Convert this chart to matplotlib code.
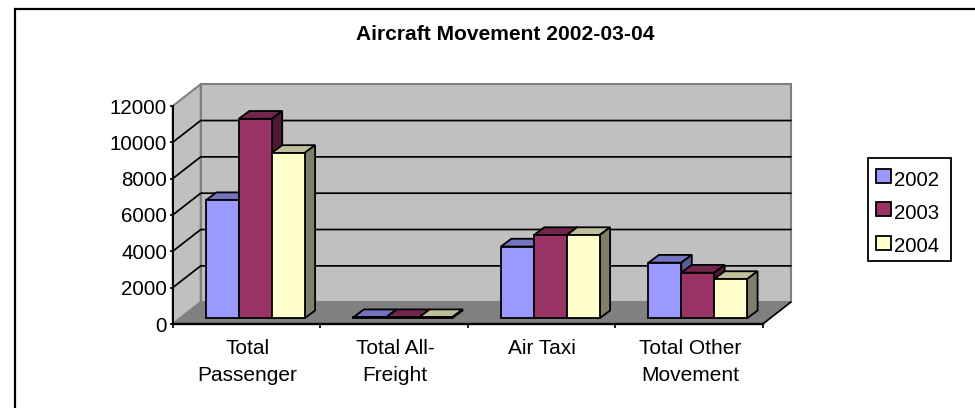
import matplotlib
matplotlib.use("Agg")
import matplotlib.pyplot as plt
from matplotlib.lines import Line2D
from matplotlib.patches import Polygon, Rectangle
from matplotlib.ticker import NullFormatter

plt.rcParams['font.family'] = ['Liberation Sans', 'DejaVu Sans']

categories = ["Total\nPassenger", "Total All-\nFreight", "Air Taxi", "Total Other\nMovement"]
years = ["2002", "2003", "2004"]
v2002 = [6500, 60, 3950, 3060]
v2003 = [10980, 60, 4580, 2510]
v2004 = [9100, 60, 4580, 2160]
series = [v2002, v2003, v2004]
front_colors = ["#9999FF", "#993366", "#FFFFCC"]
top_colors = ["#7373BF", "#73264D", "#BFBF99"]
side_colors = ["#5C5C99", "#4D1A33", "#80806A"]

W, H = 975, 408
fig = plt.figure(figsize=(W / 100, H / 100), dpi=100, facecolor="white")
L, R, T, B = 172.7, 762.7, 106.0, 324.0
ax = fig.add_axes([L / W, 1 - B / H, (R - L) / W, (B - T) / H])
ax.set_xlim(0, 4)
ax.set_ylim(0, 12000)
ax.patch.set_visible(False)
for s in ["top", "right", "bottom"]:
    ax.spines[s].set_visible(False)
ax.spines["left"].set_linewidth(1.4)

ux = (R - L) / 4          # px per category
uy = (B - T) / 12000      # px per value unit
def dx(px): return px / ux
def dy(px): return px / uy

# depth of the 3-D box and of the bars inside it
box_x, box_y = dx(28), dy(21.8)
bar0_x, bar0_y = dx(8.0), dy(5.7)
bd_x, bd_y = dx(10.5), dy(7.8)

wall = "#C0C0C0"; wall_edge = "#808080"; floor = "#808080"
ax.add_patch(Polygon([(box_x, box_y), (4 + box_x, box_y), (4 + box_x, 12000 + box_y), (box_x, 12000 + box_y)],
                     fc=wall, ec=wall_edge, lw=1.5, zorder=1, clip_on=False))
ax.add_patch(Polygon([(0, 0), (box_x, box_y), (box_x, 12000 + box_y), (0, 12000)],
                     fc=wall, ec=wall_edge, lw=1.5, zorder=1, clip_on=False))
ax.add_patch(Polygon([(0, 0), (4, 0), (4 + box_x, box_y), (box_x, box_y)],
                     fc=floor, ec=floor, lw=1, zorder=1.5, clip_on=False))

ticks = list(range(0, 12001, 2000))
for t in ticks[1:-1]:
    ax.plot([0, box_x, 4 + box_x], [t, t + box_y, t + box_y], color="black", lw=1.25, zorder=2,
            clip_on=False, solid_joinstyle="miter")

bw = dx(32.9)
start = dx(25.2)
for c in range(4):
    for i, vals in enumerate(series):
        v = vals[c]
        x0 = c + start + i * bw + bar0_x
        x1 = x0 + bw
        y0 = bar0_y
        y1 = y0 + v
        z = 3 + (c * 10) + i * 0.1
        ax.bar(x0, v, width=bw, bottom=y0, align="edge", color=front_colors[i], edgecolor="black",
               lw=1.3, zorder=z + 0.05, clip_on=False)
        ax.add_patch(Polygon([(x0, y1), (x1, y1), (x1 + bd_x, y1 + bd_y), (x0 + bd_x, y1 + bd_y)],
                             fc=top_colors[i], ec="black", lw=1.3, zorder=z, clip_on=False))
        ax.add_patch(Polygon([(x1, y0), (x1 + bd_x, y0 + bd_y), (x1 + bd_x, y1 + bd_y), (x1, y1)],
                             fc=side_colors[i], ec="black", lw=1.3, zorder=z, clip_on=False))

ax.set_yticks(ticks)
ax.set_yticklabels([str(t) for t in ticks], fontsize=14.8, color="black")
for lab in ax.get_yticklabels():
    lab.set_verticalalignment("center_baseline")
ax.tick_params(axis="y", length=2.5, width=1.2, pad=1.6)
ax.set_xticks(range(5))
ax.xaxis.set_major_formatter(NullFormatter())
ax.tick_params(axis="x", length=3, width=1.2, color="black")
ax.plot([0, 4], [0, 0], color="black", lw=1.7, zorder=2.5, clip_on=False)
ax.plot([4, 4 + box_x], [0, box_y], color="black", lw=1.2, zorder=2.5, clip_on=False)
for c, name in enumerate(categories):
    ax.annotate(name, (c + 0.5, 0), xytext=(0.7, -10.5), textcoords="offset points", ha="center", va="top",
                fontsize=15, linespacing=1.57, annotation_clip=False)

fig.text(505.5 / W, 1 - 35 / H, "Aircraft Movement 2002-03-04", fontsize=15.1, fontweight="bold",
         ha="center", va="center")

# outer frame: only the top and left edges fall inside the picture
fig.add_artist(Line2D([14.5 / W, 14.5 / W, 1], [0, 1 - 8.5 / H, 1 - 8.5 / H], transform=fig.transFigure,
                      color="black", lw=1.6, solid_joinstyle="miter"))

# legend box
fig.add_artist(Rectangle((868 / W, 1 - 260.5 / H), (950.5 - 868) / W, (260.5 - 158) / H,
                         transform=fig.transFigure, fc="white", ec="black", lw=1.3))
for i, y in enumerate(years):
    yc = 1 - (175.5 + i * 33.5) / H
    fig.add_artist(Rectangle((876 / W, yc - 7 / H), 15 / W, 14 / H, transform=fig.transFigure,
                             fc=front_colors[i], ec="black", lw=1.3))
    fig.text(894 / W, yc - 4.5 / H, y, fontsize=14.7, ha="left", va="center")

fig.savefig("out.png", dpi=100)
